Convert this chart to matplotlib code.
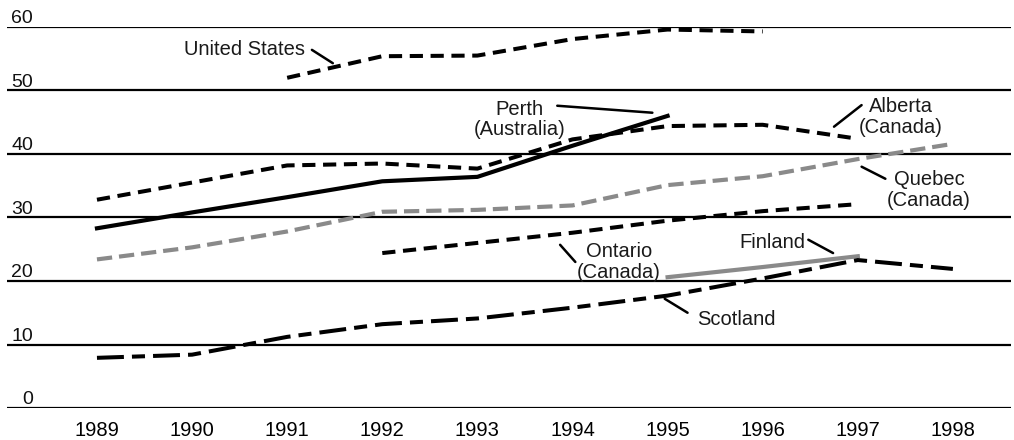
import matplotlib
matplotlib.use("Agg")
from matplotlib import pyplot as plt
import numpy as np

# values, one value per year
years = list(range(1989, 1999))

us_years = [1991, 1992, 1993, 1994, 1995, 1996]
us = [52.0, 55.4, 55.5, 58.1, 59.6, 59.3]

perth_years = [1989, 1990, 1991, 1992, 1993, 1994, 1995]
perth = [28.3, 30.8, 33.2, 35.7, 36.4, 41.3, 46.0]

alberta_years = [1989, 1990, 1991, 1992, 1993, 1994, 1995, 1996, 1997]
alberta = [32.8, 35.5, 38.2, 38.5, 37.7, 42.3, 44.4, 44.6, 42.4]

quebec_years = years
quebec = [23.4, 25.3, 27.8, 30.9, 31.2, 31.9, 35.1, 36.5, 39.2, 41.6]

ontario_years = [1992, 1993, 1994, 1995, 1996, 1997]
ontario = [24.4, 26.0, 27.6, 29.5, 31.0, 32.1]

finland_years = [1995, 1996, 1997]
finland = [20.6, 22.2, 23.9]

scotland_years = years
scotland = [7.9, 8.4, 11.2, 13.2, 14.1, 15.8, 17.7, 20.4, 23.3, 21.9]

y_ticks = [0, 10, 20, 30, 40, 50, 60]

plt.rcParams['font.family'] = ['Liberation Sans', 'DejaVu Sans']
plt.rcParams['lines.scale_dashes'] = False

BLACK = 'black'
GREY = '#8a8a8a'
short_dash = (0, (9.5, 5.5))
grey_dash = (0, (11, 5))
long_short = (0, (19.4, 5.8, 9.4, 5.8))

fig = plt.figure(figsize=(10.14, 4.4), dpi=100)
ax = fig.add_axes([7 / 1014, 32 / 440, 1004 / 1014, 381 / 440])
ax.set_xlim(1988.054, 1998.611)
ax.set_ylim(0, 60)

for v in y_ticks:
    ax.axhline(v, color=BLACK, lw=1.6, zorder=1)
    ax.text(0.026, v + 0.6, str(v), transform=ax.get_yaxis_transform(),
            ha='right', va='baseline', fontsize=14, color='#111')

ax.plot(us_years, us, color=BLACK, lw=2.9, ls=short_dash, clip_on=False, zorder=3)
ax.plot(alberta_years, alberta, color=BLACK, lw=2.9, ls=short_dash, zorder=3)
ax.plot(perth_years, perth, color=BLACK, lw=3.0, zorder=4)
ax.plot(quebec_years, quebec, color=GREY, lw=3.0, ls=grey_dash, zorder=3)
ax.plot(ontario_years, ontario, color=BLACK, lw=2.9, ls=short_dash, zorder=3)
ax.plot(finland_years, finland, color=GREY, lw=3.0, zorder=3)
ax.plot(scotland_years, scotland, color=BLACK, lw=2.9, ls=long_short, zorder=3)

# labels with leader lines
lab = dict(fontsize=14.5, color='#1a1a1a', linespacing=1.1, zorder=5)
ax.text(1991.19, 56.4, 'United States', ha='right', va='center', **lab)
ax.text(1993.44, 45.4, 'Perth\n(Australia)', ha='center', va='center', **lab)
ax.text(1997.45, 45.8, 'Alberta\n(Canada)', ha='center', va='center', **lab)
ax.text(1997.75, 34.3, 'Quebec\n(Canada)', ha='center', va='center', **lab)
ax.text(1994.49, 23.0, 'Ontario\n(Canada)', ha='center', va='center', **lab)
ax.text(1996.10, 26.0, 'Finland', ha='center', va='center', **lab)
ax.text(1995.72, 13.9, 'Scotland', ha='center', va='center', **lab)

leaders = [
    ((1991.26, 56.4), (1991.48, 54.3)),
    ((1993.84, 47.6), (1994.84, 46.5)),
    ((1997.04, 47.7), (1996.75, 44.3)),
    ((1997.04, 38.0), (1997.29, 36.1)),
    ((1993.87, 25.7), (1994.03, 23.0)),
    ((1996.48, 26.5), (1996.74, 24.4)),
    ((1994.97, 17.2), (1995.21, 15.0)),
]
for a, b in leaders:
    ax.annotate('', xy=b, xytext=a,
                arrowprops=dict(arrowstyle='-', lw=1.8, color=BLACK,
                                shrinkA=0, shrinkB=0), zorder=5)

ax.set_xticks(years)
ax.set_xticklabels([str(y) for y in years], fontsize=14.5)
ax.set_yticks([])
ax.tick_params(axis='x', length=0, pad=9)
for s in ax.spines.values():
    s.set_visible(False)

fig.savefig('out.png', dpi=100)
